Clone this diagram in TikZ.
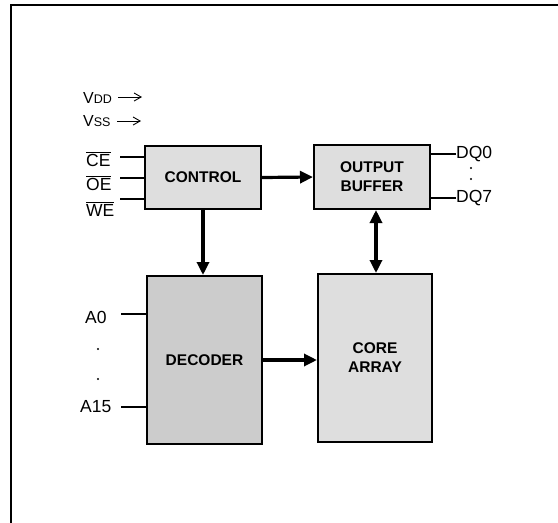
\documentclass[tikz,border=0pt]{standalone}
\usepackage{fontspec}
\setmainfont{Liberation Sans}
\usetikzlibrary{arrows.meta}
\usetikzlibrary{positioning}

\begin{document}
\begin{tikzpicture}[x=1pt, y=-1pt]
	\tikzstyle{block}=[draw, line width=2pt, fill=black!13, align=center,
	                   font=\fontsize{15.5}{19}\selectfont\bfseries, inner sep=0pt];
	\tikzstyle{pin}=[font=\fontsize{17.5}{18}\selectfont, inner sep=0pt, anchor=west];
	\tikzstyle{supply}=[font=\fontsize{16}{17}\selectfont, inner sep=0pt, anchor=west];
	\tikzstyle{bus}=[line width=3.2pt, -{Triangle[length=13pt, width=12pt]}];
	\tikzstyle{wire}=[line width=1.2pt];
	\tikzstyle{feed}=[line width=0.9pt, -{Straight Barb[length=7pt, width=8pt]}];
	\useasboundingbox (0,0) rectangle (558,523);
	\draw[line width=2.6pt] (558,5) -- (11,5) -- (11,523);
	% blocks
	\node[block, minimum width=116, minimum height=63] (control) at (203,177.5) {CONTROL};
	\node[block, minimum width=116, minimum height=64] (outbuf) at (372,177) {OUTPUT\\BUFFER};
	\node[block, fill=black!20, minimum width=115, minimum height=168] (decoder) at (204.5,360) {DECODER};
	\node[block, minimum width=114, minimum height=168] (core) at (375,358) {CORE\\ARRAY};
	% supplies
	\node[supply] (vdd) at (83,98) {V{\fontsize{12.5}{13}\selectfont DD}};
	\node[supply] (vss) at (83,121) {V{\fontsize{12.5}{13}\selectfont SS}};
	\coordinate (vdd-from) at (118,97);
	\coordinate (vdd-to) at (142,97);
	\coordinate (vss-from) at (117,121);
	\coordinate (vss-to) at (141,121);
	\draw[feed] (vdd-from) -- (vdd-to);
	\draw[feed] (vss-from) -- (vss-to);
	% control pins
	\node[pin] (ce) at (86,159) {$\overline{\mbox{CE}}$};
	\node[pin] (oe) at (86,183) {$\overline{\mbox{OE}}$};
	\node[pin] (we) at (86,209) {$\overline{\mbox{WE}}$};
	\foreach \name/\y in {ce/157, oe/178, we/199}
	{\coordinate (\name-in) at (120,\y);
	 \draw[wire] (\name-in) -- (\name-in -| control.west);}
	% address pins
	\node[pin] (a0) at (85,317) {A0};
	\node[pin] (a15) at (80,407) {A15};
	\coordinate (a0-in) at (121,314);
	\coordinate (a15-in) at (121,407);
	\draw[wire] (a0-in) -- (a0-in -| decoder.west);
	\draw[wire] (a15-in) -- (a15-in -| decoder.west);
	\fill (98,349) circle (1.2pt) (98,379) circle (1.2pt);
	% data pins
	\node[pin] (dq0) at (456,154) {DQ0};
	\node[pin] (dq7) at (456,198) {DQ7};
	\draw[wire] (dq0.west) -- (dq0.west -| outbuf.east);
	\draw[wire] (dq7.west) -- (dq7.west -| outbuf.east);
	\fill (471,168) circle (1.1pt) (471,179) circle (1.1pt);
	% buses
	\draw[bus] (control.east) -- (outbuf.west);
	\draw[bus] (control.south) -- (control.south |- decoder.north);
	\draw[bus] (decoder.east) -- (decoder.east -| core.west);
	\draw[line width=3.2pt, {Triangle[length=13pt, width=12pt]}-{Triangle[length=13pt, width=12pt]}]
		([xshift=4pt]outbuf.south) -- ([xshift=4pt]outbuf.south |- core.north);
\end{tikzpicture}
\end{document}
